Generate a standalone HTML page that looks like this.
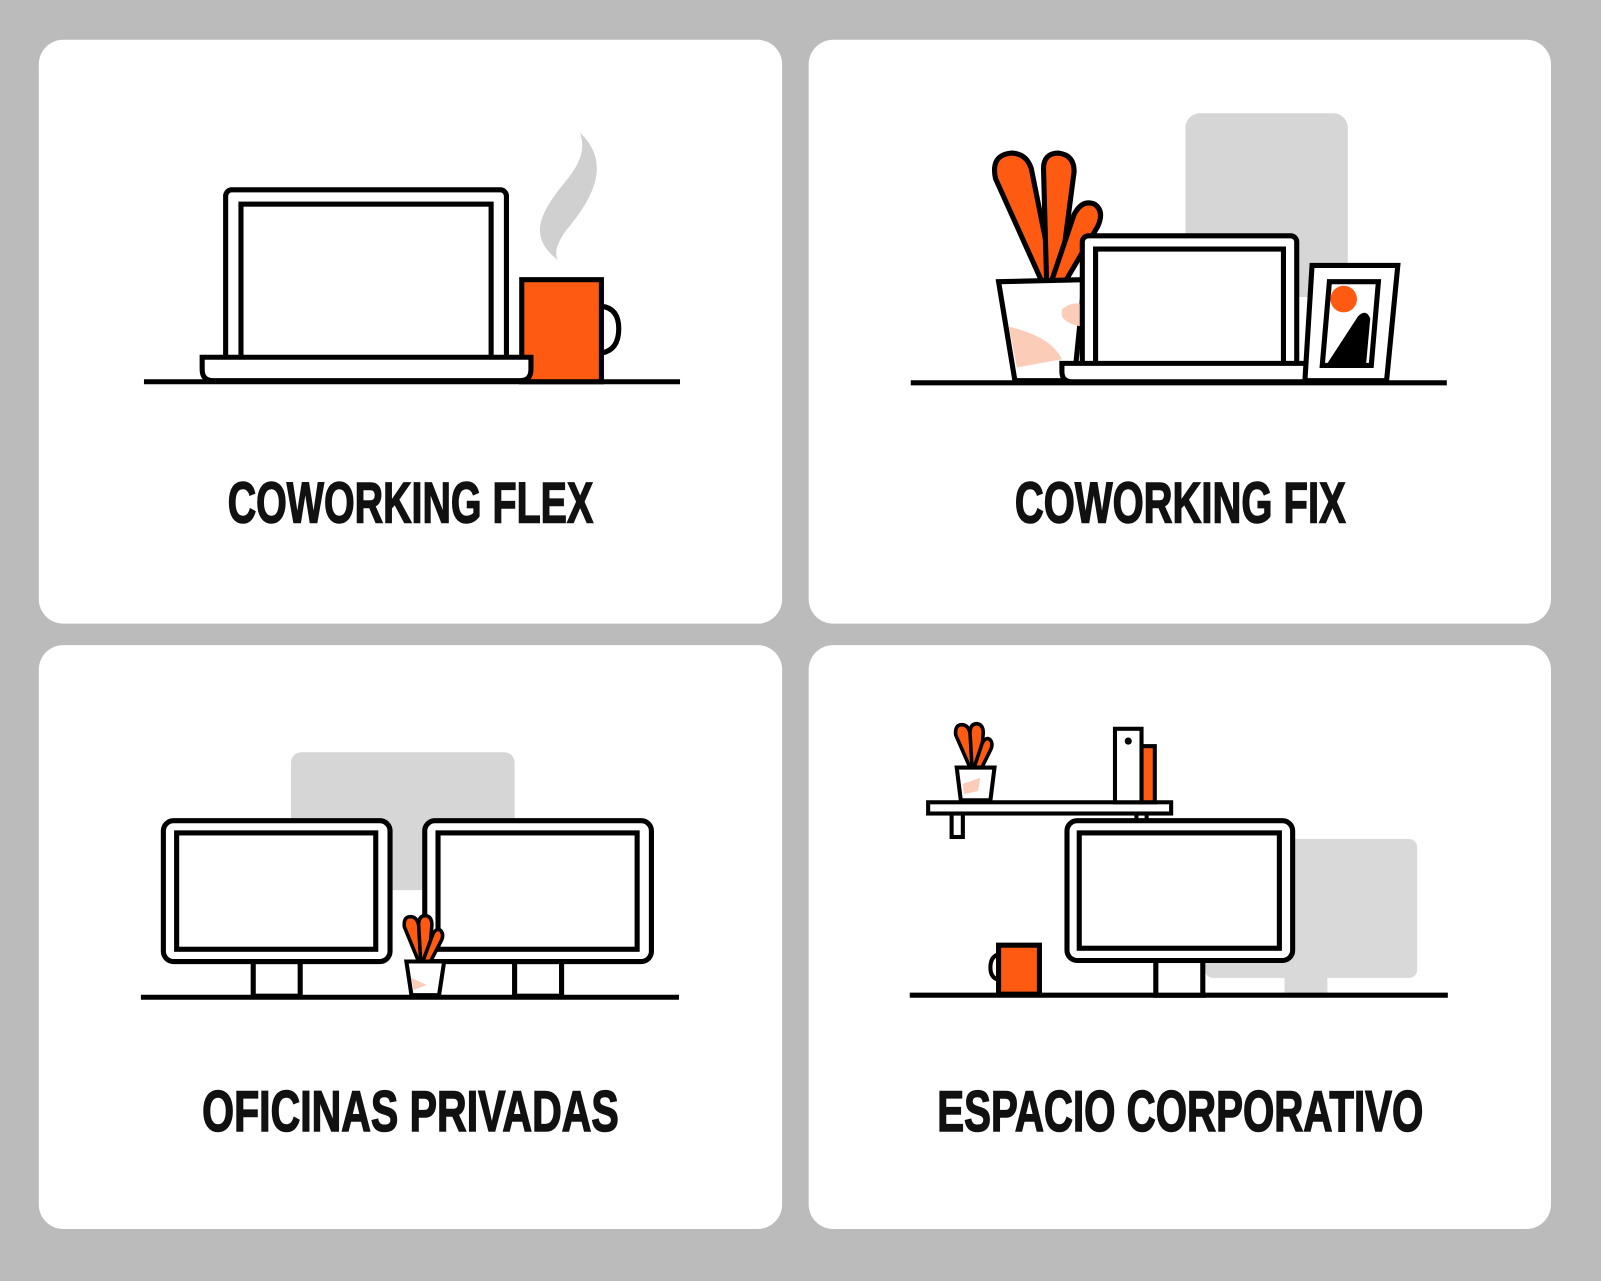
<!DOCTYPE html>
<html><head><style>html,body{margin:0;padding:0;background:#bbbbbb;width:1601px;height:1281px;overflow:hidden}</style></head>
<body>
<svg width="1601" height="1281" viewBox="0 0 1568 1255" preserveAspectRatio="none" xmlns="http://www.w3.org/2000/svg">
<rect width="1568" height="1255" fill="#bbbbbb"/>
<g fill="#fff">
<rect x="38" y="39" width="728" height="572" rx="24"/>
<rect x="792" y="39" width="727" height="572" rx="24"/>
<rect x="38" y="632" width="728" height="572" rx="24"/>
<rect x="792" y="632" width="727" height="572" rx="24"/>
</g>
<g font-family="'Liberation Sans Narrow','Liberation Sans',sans-serif" font-weight="bold" font-size="56" fill="#111" stroke="#111" stroke-width="1.5" text-anchor="middle">
<text x="402" y="512" textLength="358" lengthAdjust="spacingAndGlyphs">COWORKING FLEX</text>
<text x="1156" y="512" textLength="324" lengthAdjust="spacingAndGlyphs">COWORKING FIX</text>
<text x="402" y="1108" textLength="408" lengthAdjust="spacingAndGlyphs">OFICINAS PRIVADAS</text>
<text x="1156" y="1108" textLength="476" lengthAdjust="spacingAndGlyphs">ESPACIO CORPORATIVO</text>
</g>
<g stroke="#000" stroke-width="5" fill="#fff">
<!-- card1 -->
<path d="M568 130 C600 160,580 195,555 225 C540 245,545 255,548 256 C520 235,525 215,548 185 C565 165,575 150,568 130Z" fill="#d0d0d0" stroke="none"/>
<line x1="141" y1="374" x2="666" y2="374"/>
<rect x="221" y="186" width="275" height="168" rx="6"/>
<rect x="236" y="200" width="245" height="152"/>
<path d="M589 300 Q606 302 606 322 Q606 343 589 346"/>
<rect x="511" y="274" width="78" height="100" fill="#ff5a12"/>
<path d="M198 350 H520 V362 Q520 373 509 373 H209 Q198 373 198 362Z"/>
<!-- card2 -->
<rect x="1161" y="111" width="159" height="180" rx="14" fill="#d6d6d6" stroke="none"/>
<line x1="892" y1="375" x2="1417" y2="375"/>
<g fill="#ff5a12" stroke-linejoin="round">
<path d="M1020 275 L975 175 Q970 152 990 150 Q1005 150 1010 165 L1032 275Z"/>
<path d="M1025 275 L1022 165 Q1022 150 1037 150 Q1052 152 1052 168 L1038 275Z"/>
<path d="M1030 275 L1052 210 Q1060 195 1072 200 Q1082 207 1075 222 L1042 278Z"/>
</g>
<path d="M978 276 L1062 274 L1052 373 L994 373Z"/>
<path d="M988 320 Q1030 330 1040 352 L996 360Z" fill="#fbcdb9" stroke="none"/>
<path d="M1040 303 Q1050 295 1060 298 L1060 320 Q1045 318 1040 310Z" fill="#fbcdb9" stroke="none"/>
<rect x="1060" y="231" width="210" height="128" rx="6"/>
<rect x="1073" y="244" width="184" height="113"/>
<path d="M1040 356 H1288 V364 Q1288 374 1278 374 H1050 Q1040 374 1040 364Z"/>
<path d="M1285 260 L1369 260 L1358 373 L1278 373Z"/>
<path d="M1302 276 L1350 276 L1343 358 L1295 358Z"/>
<circle cx="1316" cy="293" r="13" fill="#ff5a12" stroke="none"/>
<path d="M1300 356 L1330 310 Q1338 302 1342 312 L1338 356Z" fill="#000" stroke="none"/>
<!-- card3 -->
<rect x="285" y="737" width="219" height="135" rx="10" fill="#d6d6d6" stroke="none"/>
<line x1="138" y1="977" x2="665" y2="977"/>
<rect x="248" y="942" width="46" height="34"/>
<rect x="504" y="942" width="46" height="34"/>
<rect x="160" y="804" width="222" height="138" rx="10"/>
<rect x="173" y="816" width="195" height="114"/>
<rect x="416" y="804" width="222" height="138" rx="10"/>
<rect x="429" y="816" width="195" height="114"/>
<g fill="#ff5a12" stroke-width="3.5" stroke-linejoin="round">
<path d="M410 942 L396 908 Q395 898 402 898 Q408 898 410 906 L418 942Z"/>
<path d="M412 942 L410 906 Q410 897 417 897 Q423 898 423 906 L420 942Z"/>
<path d="M414 942 L424 915 Q428 908 432 912 Q435 916 432 922 L421 943Z"/>
</g>
<path d="M398 942 L435 942 L430 975 L403 975Z" stroke-width="4"/>
<path d="M403 958 L418 965 L405 970Z" fill="#fbcdb9" stroke="none"/>
<!-- card4 -->
<rect x="1180" y="822" width="208" height="136" rx="8" fill="#d9d9d9" stroke="none"/>
<rect x="1258" y="956" width="42" height="20" fill="#d9d9d9" stroke="none"/>
<line x1="891" y1="975" x2="1418" y2="975"/>
<rect x="932" y="797" width="11" height="23" stroke-width="4"/>
<rect x="1113" y="797" width="10" height="8" stroke-width="4"/>
<rect x="909" y="786" width="238" height="11" stroke-width="4"/>
<rect x="1092" y="714" width="26" height="72" stroke-width="4"/>
<circle cx="1105" cy="726" r="3.5" fill="#000" stroke="none"/>
<rect x="1118" y="731" width="13" height="55" fill="#ff5a12" stroke-width="4"/>
<g fill="#ff5a12" stroke-width="3.5" stroke-linejoin="round">
<path d="M950 752 L936 720 Q935 710 942 710 Q948 710 950 718 L958 752Z"/>
<path d="M952 752 L950 718 Q950 709 957 709 Q963 710 963 718 L960 752Z"/>
<path d="M954 752 L962 728 Q966 721 970 725 Q973 729 970 735 L961 753Z"/>
</g>
<path d="M937 752 L974 752 L970 784 L941 784Z" stroke-width="4"/>
<path d="M943 768 L960 762 L958 775 L944 778Z" fill="#fbcdb9" stroke="none"/>
<rect x="1132" y="941" width="46" height="34"/>
<rect x="1045" y="804" width="221" height="137" rx="10"/>
<rect x="1057" y="816" width="196" height="113"/>
<path d="M978 935 Q970 937 970 948 Q970 958 978 960" stroke-width="4"/>
<rect x="978" y="926" width="40" height="48" fill="#ff5a12"/>
</g>
</svg>
</body></html>
